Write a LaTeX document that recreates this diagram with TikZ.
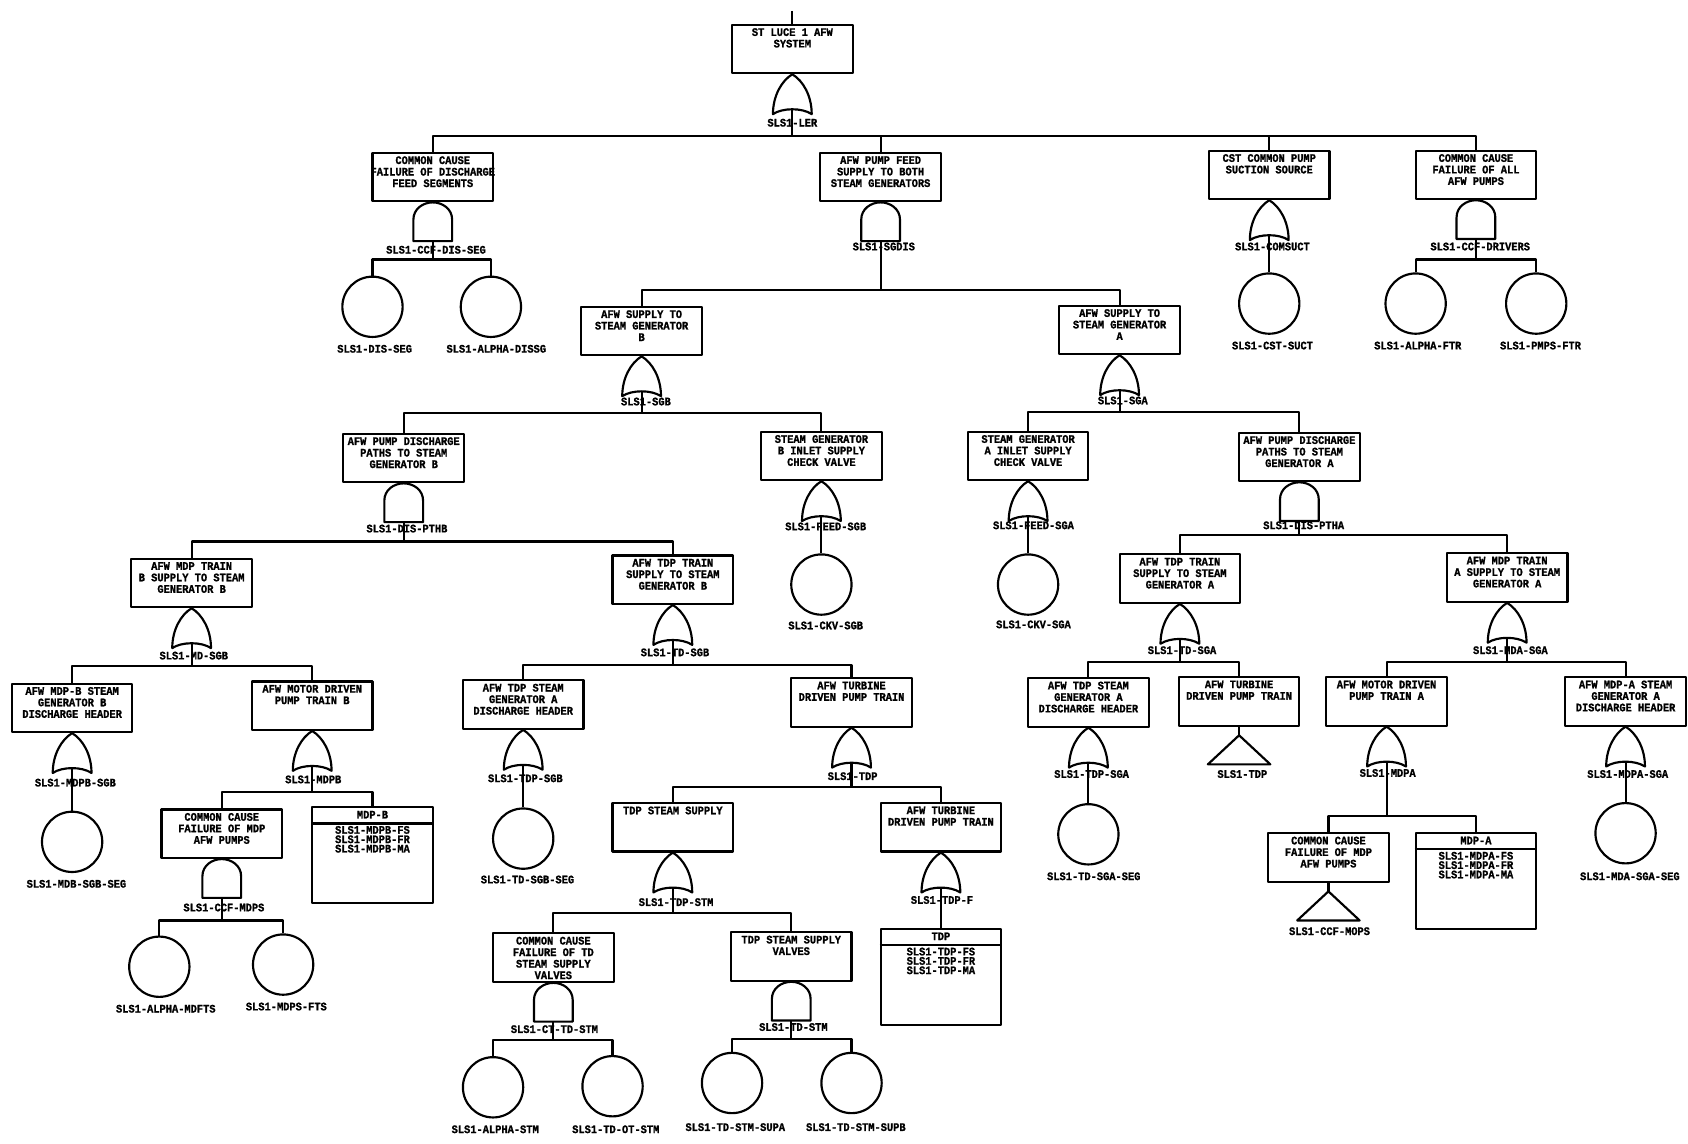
\documentclass[tikz,border=0pt]{standalone}
\usepackage{fontspec}
\setmainfont{Liberation Mono}[BoldFeatures={FakeStretch=0.9,FakeBold=1.2}]
\usepackage{tikz}

\begin{document}
\begin{tikzpicture}[
  x=1pt, y=-1pt,
  font=\bfseries\fontsize{10.7}{10.7}\selectfont,
  wire/.style      = {draw=black, line width=2pt, line join=round},
  evt/.style       = {rectangle, wire, minimum width=112pt, minimum height=45pt,
                      anchor=north, inner sep=0pt},
  evtext/.style    = {anchor=north, align=center, inner sep=0pt, yshift=-4pt},
  tbl/.style       = {rectangle, wire, minimum width=112pt, minimum height=89pt,
                      anchor=north, inner sep=0pt},
  basic/.style     = {circle, wire, minimum size=56pt, inner sep=0pt},
  tag/.style       = {inner sep=0pt},
  orgate/.pic      = {\draw[wire] (0,0) .. controls (-10,6) and (-18,20) .. (-18,37)
                        .. controls (-9,31) and (9,31) .. (18,37)
                        .. controls (18,20) and (10,6) .. (0,0);
                      \coordinate (-out) at (0,33);},
  andgate/.pic     = {\draw[wire] (-18,36) -- (-18,16) .. controls (-18,6) and (-9,0) .. (0,0)
                        .. controls (9,0) and (18,6) .. (18,16) -- (18,36) -- cycle;
                      \coordinate (-out) at (0,36);},
  xfer/.pic        = {\draw[wire] (0,0) -- (-29,27) -- (29,27) -- cycle;
                      \coordinate (-in) at (0,0);},
]
\useasboundingbox (0,0) rectangle (1568,1062);

% Top event and first level
\coordinate (topin) at (736,10);
\node[evt, label={[evtext]90:{ST LUCE 1 AFW\\SYSTEM}}] (ler) at (736,22) {};
\draw[wire] (topin) -- (ler.north);
\pic (gler) at (ler.south) {orgate};
\node[tag] (tler) at (736,114) {SLS1-LER};
\coordinate (bler) at (736,126);
\draw[wire] (gler-out) -- (bler);

\node[evt, label={[evtext]90:{COMMON CAUSE\\FAILURE OF DISCHARGE\\FEED SEGMENTS}}] (ccfdis) at (402,141) {};
\node[evt, label={[evtext]90:{AFW PUMP FEED\\SUPPLY TO BOTH\\STEAM GENERATORS}}] (sgdis) at (818,141) {};
\node[evt, label={[evtext]90:{CST COMMON PUMP\\SUCTION SOURCE}}] (comsuct) at (1179,139) {};
\node[evt, label={[evtext]90:{COMMON CAUSE\\FAILURE OF ALL\\AFW PUMPS}}] (ccfdrv) at (1371,139) {};
\foreach \c in {ccfdis,sgdis,comsuct,ccfdrv} \draw[wire] (\c.north) |- (bler);

% Discharge segment and pump common cause
\pic (gccfdis) at (ccfdis.south) {andgate};
\node[tag] (tccfdis) at (405,232) {SLS1-CCF-DIS-SEG};
\coordinate (bccfdis) at (402,241);
\draw[wire] (gccfdis-out) -- (bccfdis);
\node[basic] (disseg) at (346,285) {};
\node[basic] (alphadis) at (456,285) {};
\draw[wire] (disseg.north) |- (bccfdis) -| (alphadis.north);
\node[tag] (tdisseg) at (348,324) {SLS1-DIS-SEG};
\node[tag] (talphadis) at (461,324) {SLS1-ALPHA-DISSG};

\pic (gcomsuct) at (comsuct.south) {orgate};
\node[tag] (tcomsuct) at (1182,229) {SLS1-COMSUCT};
\node[basic] (cstsuct) at (1179,282) {};
\draw[wire] (gcomsuct-out) -- (cstsuct.north);
\node[tag] (tcstsuct) at (1182,321) {SLS1-CST-SUCT};

\pic (gccfdrv) at (ccfdrv.south) {andgate};
\node[tag] (tccfdrv) at (1375,229) {SLS1-CCF-DRIVERS};
\coordinate (bccfdrv) at (1371,241);
\draw[wire] (gccfdrv-out) -- (bccfdrv);
\node[basic] (alphaftr) at (1315,282) {};
\node[basic] (pmpsftr) at (1427,282) {};
\draw[wire] (alphaftr.north) |- (bccfdrv) -| (pmpsftr.north);
\node[tag] (talphaftr) at (1317,321) {SLS1-ALPHA-FTR};
\node[tag] (tpmpsftr) at (1431,321) {SLS1-PMPS-FTR};

% Feed to both generators
\pic (gsgdis) at (sgdis.south) {andgate};
\node[tag] (tsgdis) at (821,229) {SLS1-SGDIS};
\coordinate (bsgdis) at (818,269);
\draw[wire] (gsgdis-out) -- (bsgdis);
\node[evt, label={[evtext]90:{AFW SUPPLY TO\\STEAM GENERATOR\\B}}] (sgb) at (596,284) {};
\node[evt, label={[evtext]90:{AFW SUPPLY TO\\STEAM GENERATOR\\A}}] (sga) at (1040,283) {};
\draw[wire] (sgb.north) |- (bsgdis) -| (sga.north);

% Generator B side
\pic (gsgb) at (sgb.south) {orgate};
\node[tag] (tsgb) at (600,373) {SLS1-SGB};
\coordinate (bsgb) at (596,384);
\draw[wire] (gsgb-out) -- (bsgb);
\node[evt, label={[evtext]90:{AFW PUMP DISCHARGE\\PATHS TO STEAM\\GENERATOR B}}] (ptb) at (375,402) {};
\node[evt, label={[evtext]90:{STEAM GENERATOR\\B INLET SUPPLY\\CHECK VALVE}}] (fdb) at (763,400) {};
\draw[wire] (ptb.north) |- (bsgb) -| (fdb.north);

\pic (gfdb) at (fdb.south) {orgate};
\node[tag] (tfdb) at (767,489) {SLS1-FEED-SGB};
\node[basic] (ckvb) at (763,543) {};
\draw[wire] (gfdb-out) -- (ckvb.north);
\node[tag] (tckvb) at (767,581) {SLS1-CKV-SGB};

\pic (gptb) at (ptb.south) {andgate};
\node[tag] (tptb) at (378,491) {SLS1-DIS-PTHB};
\coordinate (bptb) at (375,503);
\draw[wire] (gptb-out) -- (bptb);
\node[evt, label={[evtext]90:{AFW MDP TRAIN\\B SUPPLY TO STEAM\\GENERATOR B}}] (mdb) at (178,518) {};
\node[evt, label={[evtext]90:{AFW TDP TRAIN\\SUPPLY TO STEAM\\GENERATOR B}}] (tdb) at (625,515) {};
\draw[wire] (mdb.north) |- (bptb) -| (tdb.north);

% Motor driven train B
\pic (gmdb) at (mdb.south) {orgate};
\node[tag] (tmdb) at (180,609) {SLS1-MD-SGB};
\coordinate (bmdb) at (178,619);
\draw[wire] (gmdb-out) -- (bmdb);
\node[evt, label={[evtext]90:{AFW MDP-B STEAM\\GENERATOR B\\DISCHARGE HEADER}}] (hdmb) at (67,634) {};
\node[evt, label={[evtext]90:{AFW MOTOR DRIVEN\\PUMP TRAIN B}}] (ptmb) at (290,632) {};
\draw[wire] (hdmb.north) |- (bmdb) -| (ptmb.north);

\pic (ghdmb) at (hdmb.south) {orgate};
\node[tag] (thdmb) at (70,727) {SLS1-MDPB-SGB};
\node[basic] (segmb) at (67,782) {};
\draw[wire] (ghdmb-out) -- (segmb.north);
\node[tag] (tsegmb) at (71,821) {SLS1-MDB-SGB-SEG};

\pic (gptmb) at (ptmb.south) {orgate};
\node[tag] (tptmb) at (291,724) {SLS1-MDPB};
\coordinate (bptmb) at (290,736);
\draw[wire] (gptmb-out) -- (bptmb);
\node[evt, label={[evtext]90:{COMMON CAUSE\\FAILURE OF MDP\\AFW PUMPS}}] (ccfmb) at (206,751) {};
\node[tbl, label={[evtext]90:{MDP-B\\[3.5pt]SLS1-MDPB-FS\\[-2pt]SLS1-MDPB-FR\\[-2pt]SLS1-MDPB-MA}}] (mdpb) at (346,749) {};
\draw[wire] (ccfmb.north) |- (bptmb) -| (mdpb.north);
\draw[wire] ([yshift=-16pt]mdpb.north west) -- ([yshift=-16pt]mdpb.north east);

\pic (gccfmb) at (ccfmb.south) {andgate};
\node[tag] (tccfmb) at (208,843) {SLS1-CCF-MDPS};
\coordinate (bccfmb) at (206,855);
\draw[wire] (gccfmb-out) -- (bccfmb);
\node[basic] (alphamd) at (148,898) {};
\node[basic] (mdpsfts) at (263,896) {};
\draw[wire] (alphamd.north) |- (bccfmb) -| (mdpsfts.north);
\node[tag] (talphamd) at (154,937) {SLS1-ALPHA-MDFTS};
\node[tag] (tmdpsfts) at (266,935) {SLS1-MDPS-FTS};

% Turbine driven train B
\pic (gtdb) at (tdb.south) {orgate};
\node[tag] (ttdb) at (627,606) {SLS1-TD-SGB};
\coordinate (btdb) at (625,618);
\draw[wire] (gtdb-out) -- (btdb);
\node[evt, label={[evtext]90:{AFW TDP STEAM\\GENERATOR A\\DISCHARGE HEADER}}] (hdtb) at (486,631) {};
\node[evt, label={[evtext]90:{AFW TURBINE\\DRIVEN PUMP TRAIN}}] (tdp) at (791,629) {};
\draw[wire] (hdtb.north) |- (btdb) -| (tdp.north);

\pic (ghdtb) at (hdtb.south) {orgate};
\node[tag] (thdtb) at (488,723) {SLS1-TDP-SGB};
\node[basic] (segtb) at (486,779) {};
\draw[wire] (ghdtb-out) -- (segtb.north);
\node[tag] (tsegtb) at (490,817) {SLS1-TD-SGB-SEG};

\pic (gtdp) at (tdp.south) {orgate};
\node[tag] (ttdp) at (792,721) {SLS1-TDP};
\coordinate (btdp) at (791,731);
\draw[wire] (gtdp-out) -- (btdp);
\node[evt, label={[evtext]90:{TDP STEAM SUPPLY}}] (stm) at (625,745) {};
\node[evt, label={[evtext]90:{AFW TURBINE\\DRIVEN PUMP TRAIN}}] (tdf) at (874,745) {};
\draw[wire] (stm.north) |- (btdp) -| (tdf.north);

\pic (gtdf) at (tdf.south) {orgate};
\node[tag] (ttdf) at (875,836) {SLS1-TDP-F};
\node[tbl, label={[evtext]90:{TDP\\[3.5pt]SLS1-TDP-FS\\[-2pt]SLS1-TDP-FR\\[-2pt]SLS1-TDP-MA}}] (tdpb) at (874,862) {};
\draw[wire] (gtdf-out) -- (tdpb.north);
\draw[wire] ([yshift=-16pt]tdpb.north west) -- ([yshift=-16pt]tdpb.north east);

\pic (gstm) at (stm.south) {orgate};
\node[tag] (tstm) at (628,838) {SLS1-TDP-STM};
\coordinate (bstm) at (625,848);
\draw[wire] (gstm-out) -- (bstm);
\node[evt, label={[evtext]90:{COMMON CAUSE\\FAILURE OF TD\\STEAM SUPPLY\\VALVES}}] (ccfst) at (514,866) {};
\node[evt, label={[evtext]90:{TDP STEAM SUPPLY\\VALVES}}] (stv) at (735,865) {};
\draw[wire] (ccfst.north) |- (bstm) -| (stv.north);

\pic (gccfst) at (ccfst.south) {andgate};
\node[tag] (tccfst) at (515,956) {SLS1-CT-TD-STM};
\coordinate (bccfst) at (514,966);
\draw[wire] (gccfst-out) -- (bccfst);
\node[basic] (alphast) at (458,1010) {};
\node[basic] (tdotst) at (569,1009) {};
\draw[wire] (alphast.north) |- (bccfst) -| (tdotst.north);
\node[tag] (talphast) at (460,1049) {SLS1-ALPHA-STM};
\node[tag] (ttdotst) at (572,1049) {SLS1-TD-OT-STM};

\pic (gstv) at (stv.south) {andgate};
\node[tag] (tstv) at (737,954) {SLS1-TD-STM};
\coordinate (bstv) at (735,965);
\draw[wire] (gstv-out) -- (bstv);
\node[basic] (supa) at (680,1006) {};
\node[basic] (supb) at (791,1006) {};
\draw[wire] (supa.north) |- (bstv) -| (supb.north);
\node[tag] (tsupa) at (683,1047) {SLS1-TD-STM-SUPA};
\node[tag] (tsupb) at (795,1047) {SLS1-TD-STM-SUPB};

% Generator A side
\pic (gsga) at (sga.south) {orgate};
\node[tag] (tsga) at (1043,372) {SLS1-SGA};
\coordinate (bsga) at (1040,383);
\draw[wire] (gsga-out) -- (bsga);
\node[evt, label={[evtext]90:{STEAM GENERATOR\\A INLET SUPPLY\\CHECK VALVE}}] (fda) at (955,400) {};
\node[evt, label={[evtext]90:{AFW PUMP DISCHARGE\\PATHS TO STEAM\\GENERATOR A}}] (pta) at (1207,401) {};
\draw[wire] (fda.north) |- (bsga) -| (pta.north);

\pic (gfda) at (fda.south) {orgate};
\node[tag] (tfda) at (960,488) {SLS1-FEED-SGA};
\node[basic] (ckva) at (955,543) {};
\draw[wire] (gfda-out) -- (ckva.north);
\node[tag] (tckva) at (960,580) {SLS1-CKV-SGA};

\pic (gpta) at (pta.south) {andgate};
\node[tag] (tpta) at (1211,488) {SLS1-DIS-PTHA};
\coordinate (bpta) at (1207,497);
\draw[wire] (gpta-out) -- (bpta);
\node[evt, label={[evtext]90:{AFW TDP TRAIN\\SUPPLY TO STEAM\\GENERATOR A}}] (tda) at (1096,514) {};
\node[evt, label={[evtext]90:{AFW MDP TRAIN\\A SUPPLY TO STEAM\\GENERATOR A}}] (mda) at (1400,513) {};
\draw[wire] (tda.north) |- (bpta) -| (mda.north);

% Turbine driven train A
\pic (gtda) at (tda.south) {orgate};
\node[tag] (ttda) at (1098,604) {SLS1-TD-SGA};
\coordinate (btda) at (1096,615);
\draw[wire] (gtda-out) -- (btda);
\node[evt, label={[evtext]90:{AFW TDP STEAM\\GENERATOR A\\DISCHARGE HEADER}}] (hdta) at (1011,629) {};
\node[evt, label={[evtext]90:{AFW TURBINE\\DRIVEN PUMP TRAIN}}] (tdpa) at (1151,628) {};
\draw[wire] (hdta.north) |- (btda) -| (tdpa.north);

\pic (ghdta) at (hdta.south) {orgate};
\node[tag] (thdta) at (1014,719) {SLS1-TDP-SGA};
\node[basic] (segta) at (1011,775) {};
\draw[wire] (ghdta-out) -- (segta.north);
\node[tag] (tsegta) at (1016,814) {SLS1-TD-SGA-SEG};

\pic (xtdp) at (1151,683) {xfer};
\draw[wire] (tdpa.south) -- (xtdp-in);
\node[tag] (txtdp) at (1154,719) {SLS1-TDP};

% Motor driven train A
\pic (gmda) at (mda.south) {orgate};
\node[tag] (tmda) at (1403,604) {SLS1-MDA-SGA};
\coordinate (bmda) at (1400,615);
\draw[wire] (gmda-out) -- (bmda);
\node[evt, label={[evtext]90:{AFW MOTOR DRIVEN\\PUMP TRAIN A}}] (ptma) at (1288,628) {};
\node[evt, label={[evtext]90:{AFW MDP-A STEAM\\GENERATOR A\\DISCHARGE HEADER}}] (hdma) at (1510,628) {};
\draw[wire] (ptma.north) |- (bmda) -| (hdma.north);

\pic (ghdma) at (hdma.south) {orgate};
\node[tag] (thdma) at (1512,719) {SLS1-MDPA-SGA};
\node[basic] (segma) at (1510,774) {};
\draw[wire] (ghdma-out) -- (segma.north);
\node[tag] (tsegma) at (1514,814) {SLS1-MDA-SGA-SEG};

\pic (gptma) at (ptma.south) {orgate};
\node[tag] (tptma) at (1289,718) {SLS1-MDPA};
\coordinate (bptma) at (1288,758);
\draw[wire] (gptma-out) -- (bptma);
\node[evt, label={[evtext]90:{COMMON CAUSE\\FAILURE OF MDP\\AFW PUMPS}}] (ccfma) at (1234,773) {};
\node[tbl, label={[evtext]90:{MDP-A\\[3.5pt]SLS1-MDPA-FS\\[-2pt]SLS1-MDPA-FR\\[-2pt]SLS1-MDPA-MA}}] (mdpa) at (1371,773) {};
\draw[wire] (ccfma.north) |- (bptma) -| (mdpa.north);
\draw[wire] ([yshift=-16pt]mdpa.north west) -- ([yshift=-16pt]mdpa.north east);

\pic (xccf) at (1234,828) {xfer};
\draw[wire] (ccfma.south) -- (xccf-in);
\node[tag] (txccf) at (1235,865) {SLS1-CCF-MOPS};
\end{tikzpicture}
\end{document}
